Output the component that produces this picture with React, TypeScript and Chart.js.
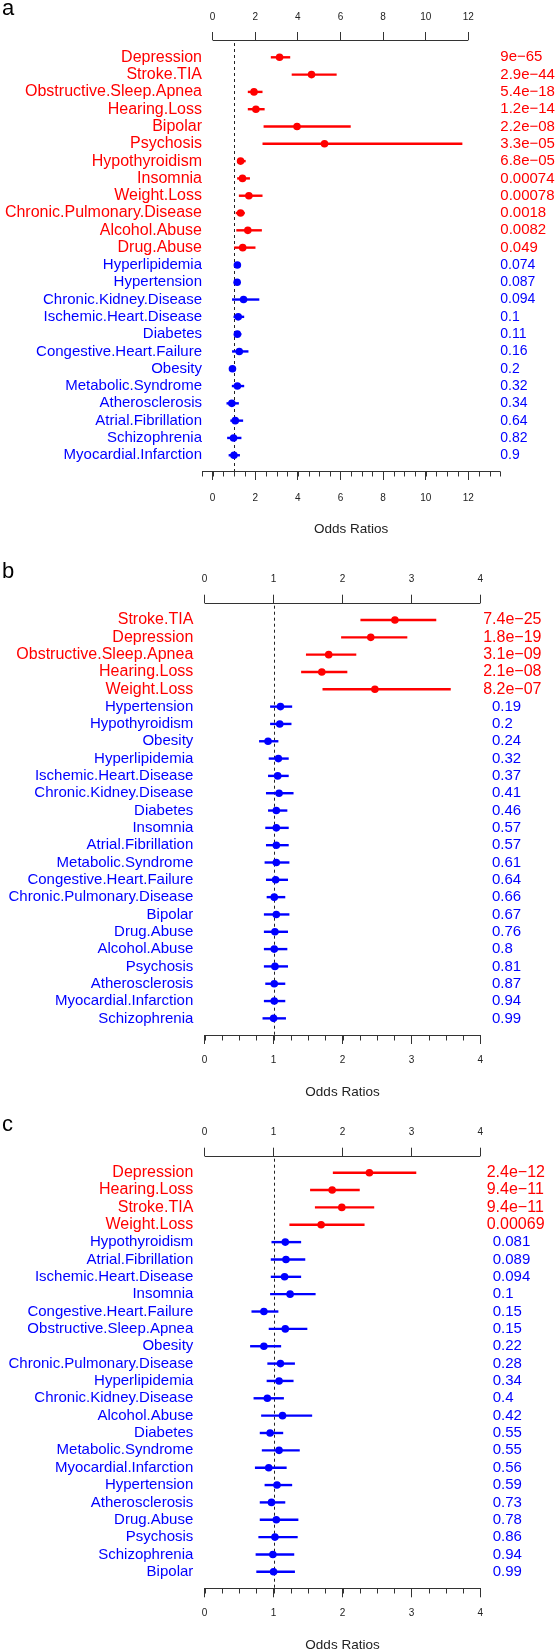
import React, { useEffect, useRef } from 'react';
import { Chart, registerables } from 'chart.js';
Chart.register(...registerables);

const RED = '#FF0000';
const BLUE = '#0000FF';
const AXIS = '#333333';
const FONT = "'Liberation Sans', Arial, Helvetica, sans-serif";

// ---------- Panel a ----------
const aLabels = ['Depression', 'Stroke.TIA', 'Obstructive.Sleep.Apnea', 'Hearing.Loss', 'Bipolar', 'Psychosis', 'Hypothyroidism', 'Insomnia', 'Weight.Loss', 'Chronic.Pulmonary.Disease', 'Alcohol.Abuse', 'Drug.Abuse', 'Hyperlipidemia', 'Hypertension', 'Chronic.Kidney.Disease', 'Ischemic.Heart.Disease', 'Diabetes', 'Congestive.Heart.Failure', 'Obesity', 'Metabolic.Syndrome', 'Atherosclerosis', 'Atrial.Fibrillation', 'Schizophrenia', 'Myocardial.Infarction'];
const aOR = [3.14, 4.64, 1.94, 2.03, 3.96, 5.25, 1.31, 1.40, 1.70, 1.31, 1.65, 1.41, 1.16, 1.15, 1.45, 1.20, 1.16, 1.25, 0.93, 1.16, 0.90, 1.06, 0.98, 1.00];
const aLo = [2.73, 3.71, 1.65, 1.65, 2.39, 2.34, 1.15, 1.15, 1.23, 1.08, 1.11, 1.01, 1.05, 1.05, 0.91, 0.98, 1.01, 0.91, 0.81, 0.90, 0.65, 0.83, 0.68, 0.75];
const aHi = [3.64, 5.82, 2.34, 2.44, 6.48, 11.72, 1.55, 1.75, 2.34, 1.51, 2.31, 2.01, 1.30, 1.28, 2.19, 1.48, 1.35, 1.68, 1.05, 1.48, 1.23, 1.43, 1.35, 1.28];
const aP = ['9e−65', '2.9e−44', '5.4e−18', '1.2e−14', '2.2e−08', '3.3e−05', '6.8e−05', '0.00074', '0.00078', '0.0018', '0.0082', '0.049', '0.074', '0.087', '0.094', '0.1', '0.11', '0.16', '0.2', '0.32', '0.34', '0.64', '0.82', '0.9'];
const aSig = 12;
const aTicks = [0, 2, 4, 6, 8, 10, 12];

// ---------- Panel b ----------
const bLabels = ['Stroke.TIA', 'Depression', 'Obstructive.Sleep.Apnea', 'Hearing.Loss', 'Weight.Loss', 'Hypertension', 'Hypothyroidism', 'Obesity', 'Hyperlipidemia', 'Ischemic.Heart.Disease', 'Chronic.Kidney.Disease', 'Diabetes', 'Insomnia', 'Atrial.Fibrillation', 'Metabolic.Syndrome', 'Congestive.Heart.Failure', 'Chronic.Pulmonary.Disease', 'Bipolar', 'Drug.Abuse', 'Alcohol.Abuse', 'Psychosis', 'Atherosclerosis', 'Myocardial.Infarction', 'Schizophrenia'];
const bOR = [2.76, 2.41, 1.80, 1.70, 2.47, 1.10, 1.09, 0.92, 1.07, 1.06, 1.08, 1.04, 1.04, 1.04, 1.04, 1.03, 1.01, 1.04, 1.02, 1.01, 1.02, 1.01, 1.01, 1.00];
const bLo = [2.26, 1.98, 1.47, 1.40, 1.71, 0.95, 0.95, 0.79, 0.93, 0.92, 0.89, 0.92, 0.88, 0.89, 0.87, 0.89, 0.90, 0.86, 0.86, 0.86, 0.86, 0.88, 0.86, 0.84];
const bHi = [3.36, 2.94, 2.20, 2.07, 3.57, 1.27, 1.26, 1.07, 1.22, 1.22, 1.29, 1.20, 1.22, 1.22, 1.23, 1.21, 1.17, 1.23, 1.21, 1.20, 1.21, 1.17, 1.17, 1.18];
const bP = ['7.4e−25', '1.8e−19', '3.1e−09', '2.1e−08', '8.2e−07', '0.19', '0.2', '0.24', '0.32', '0.37', '0.41', '0.46', '0.57', '0.57', '0.61', '0.64', '0.66', '0.67', '0.76', '0.8', '0.81', '0.87', '0.94', '0.99'];
const bSig = 5;
const bTicks = [0, 1, 2, 3, 4];

// ---------- Panel c ----------
const cLabels = ['Depression', 'Hearing.Loss', 'Stroke.TIA', 'Weight.Loss', 'Hypothyroidism', 'Atrial.Fibrillation', 'Ischemic.Heart.Disease', 'Insomnia', 'Congestive.Heart.Failure', 'Obstructive.Sleep.Apnea', 'Obesity', 'Chronic.Pulmonary.Disease', 'Hyperlipidemia', 'Chronic.Kidney.Disease', 'Alcohol.Abuse', 'Diabetes', 'Metabolic.Syndrome', 'Myocardial.Infarction', 'Hypertension', 'Atherosclerosis', 'Drug.Abuse', 'Psychosis', 'Schizophrenia', 'Bipolar'];
const cOR = [2.39, 1.85, 1.99, 1.69, 1.17, 1.18, 1.16, 1.24, 0.86, 1.17, 0.86, 1.10, 1.08, 0.91, 1.13, 0.95, 1.08, 0.93, 1.05, 0.97, 1.04, 1.02, 0.99, 1.00];
const cLo = [1.86, 1.53, 1.60, 1.23, 0.97, 0.96, 0.96, 0.95, 0.68, 0.93, 0.66, 0.91, 0.90, 0.71, 0.82, 0.80, 0.83, 0.73, 0.87, 0.80, 0.80, 0.78, 0.74, 0.75];
const cHi = [3.07, 2.25, 2.46, 2.32, 1.40, 1.46, 1.40, 1.61, 1.07, 1.49, 1.11, 1.31, 1.29, 1.15, 1.56, 1.14, 1.38, 1.19, 1.27, 1.17, 1.36, 1.35, 1.30, 1.31];
const cP = ['2.4e−12', '9.4e−11', '9.4e−11', '0.00069', '0.081', '0.089', '0.094', '0.1', '0.15', '0.15', '0.22', '0.28', '0.34', '0.4', '0.42', '0.55', '0.55', '0.56', '0.59', '0.73', '0.78', '0.86', '0.94', '0.99'];
const cSig = 4;
const cTicks = [0, 1, 2, 3, 4];

const xLabel = 'Odds Ratios';

type Panel = {
  letter: string;
  labels: string[];
  or: number[];
  lo: number[];
  hi: number[];
  p: string[];
  sig: number;
  ticks: number[];
  xMin: number;
  xMax: number;
  minorStep: number;
  top: number;
  h: number;
  axisTop: number;
  axisBottom: number;
  left: number;
  right: number;
  yMin: number;
  yMax: number;
  labelPad: number;
  pRedPad: number;
  pBluePad: number;
  pRedSize: number;
  pBlueSize: number;
  bottomPad: number;
  titleOffset: number;
};

const panels: Panel[] = [
  {
    letter: 'a', labels: aLabels, or: aOR, lo: aLo, hi: aHi, p: aP, sig: aSig, ticks: aTicks,
    xMin: -0.5, xMax: 13.5, minorStep: 0.5,
    top: 0, h: 550, axisTop: 40, axisBottom: 471, left: 202.0, right: 500.3,
    yMin: -1, yMax: 23.91, labelPad: 0, pRedPad: 0, pBluePad: 0, pRedSize: 15, pBlueSize: 14,
    bottomPad: 12, titleOffset: 58,
  },
  {
    letter: 'b', labels: bLabels, or: bOR, lo: bLo, hi: bHi, p: bP, sig: bSig, ticks: bTicks,
    xMin: 0, xMax: 4, minorStep: 0.25,
    top: 550, h: 555, axisTop: 52.7, axisBottom: 485, left: 204.6, right: 480.4,
    yMin: -1, yMax: 23.96, labelPad: 11.3, pRedPad: 2.8, pBluePad: 11.6, pRedSize: 16, pBlueSize: 15,
    bottomPad: 10, titleOffset: 57.5,
  },
  {
    letter: 'c', labels: cLabels, or: cOR, lo: cLo, hi: cHi, p: cP, sig: cSig, ticks: cTicks,
    xMin: 0, xMax: 4, minorStep: 0.25,
    top: 1105, h: 547, axisTop: 50.7, axisBottom: 483.3, left: 204.6, right: 480.4,
    yMin: -0.98, yMax: 23.95, labelPad: 11.3, pRedPad: 6.3, pBluePad: 12.3, pRedSize: 16, pBlueSize: 15,
    bottomPad: 10, titleOffset: 57.4,
  },
];

function makePlugin(pn: Panel) {
  return {
    id: 'forest' + pn.letter,
    afterLayout(chart: any) {
      // both p-value axes start at the plot's right edge; let the inner one draw its labels across the margin
      const s = chart.scales.y2;
      if (s) s.right = chart.width;
    },
    beforeDatasetsDraw(chart: any) {
      const { ctx, chartArea } = chart;
      const x = chart.scales.x;
      const y = chart.scales.y;
      ctx.save();
      const xr = Math.round(x.getPixelForValue(1)) + 0.5;
      ctx.strokeStyle = '#222';
      ctx.lineWidth = 1;
      ctx.setLineDash([3, 3]);
      ctx.beginPath();
      ctx.moveTo(xr, chartArea.top + 3);
      ctx.lineTo(xr, chartArea.bottom);
      ctx.stroke();
      ctx.setLineDash([]);
      ctx.lineWidth = 2.4;
      ctx.lineCap = 'butt';
      pn.lo.forEach((lo, i) => {
        const yy = y.getPixelForValue(i);
        ctx.strokeStyle = i < pn.sig ? RED : BLUE;
        ctx.beginPath();
        ctx.moveTo(x.getPixelForValue(lo), yy);
        ctx.lineTo(x.getPixelForValue(pn.hi[i]), yy);
        ctx.stroke();
      });
      ctx.restore();
    },
    afterDraw(chart: any) {
      const { ctx, chartArea } = chart;
      const x = chart.scales.x;
      ctx.save();
      ctx.strokeStyle = AXIS;
      ctx.lineWidth = 1;
      const yt = Math.round(chartArea.top) + 0.5;
      ctx.beginPath();
      ctx.moveTo(x.getPixelForValue(pn.ticks[0]), yt);
      ctx.lineTo(x.getPixelForValue(pn.ticks[pn.ticks.length - 1]), yt);
      ctx.stroke();
      const yb = Math.round(chartArea.bottom) + 0.5;
      ctx.beginPath();
      ctx.moveTo(x.getPixelForValue(pn.xMin), yb);
      ctx.lineTo(x.getPixelForValue(pn.xMax), yb);
      const n = Math.round((pn.xMax - pn.xMin) / pn.minorStep);
      for (let k = 0; k <= n; k++) {
        const v = pn.xMin + k * pn.minorStep;
        const px = Math.round(x.getPixelForValue(v)) + 0.5;
        ctx.moveTo(px, yb);
        ctx.lineTo(px, yb + 5);
      }
      ctx.stroke();
      ctx.fillStyle = '#000';
      ctx.font = `22px ${FONT}`;
      ctx.textAlign = 'left';
      ctx.textBaseline = 'alphabetic';
      ctx.fillText(pn.letter, 2, pn.axisTop - 25);
      ctx.restore();
    },
  };
}

function ForestPanel({ pn }: { pn: Panel }) {
  const ref = useRef<HTMLCanvasElement | null>(null);
  useEffect(() => {
    if (!ref.current) return;
    const W = 555;
    const titleLH = 0.8;
    const titleSize = 13.5;
    const bottomH = pn.titleOffset + (titleSize * titleLH) / 2;
    const padBottom = Math.max(0, pn.h - pn.axisBottom - bottomH);
    const tickFont = { family: FONT, size: 10 };
    const setTicks = (vals: number[]) => (s: any) => {
      s.ticks = vals.map((v) => ({ value: v }));
    };
    const rows = pn.labels.map((_, i) => i);
    const rowAxis = (extra: any) => ({
      type: 'linear',
      reverse: true,
      min: pn.yMin,
      max: pn.yMax,
      afterBuildTicks: setTicks(rows),
      grid: { display: false, drawTicks: false },
      border: { display: false },
      ...extra,
    });
    const chart = new Chart(ref.current, {
      type: 'scatter',
      data: {
        datasets: [
          {
            data: pn.or.map((v, i) => ({ x: v, y: i })),
            backgroundColor: pn.or.map((_, i) => (i < pn.sig ? RED : BLUE)),
            borderWidth: 0,
            pointRadius: 3.8,
            pointHoverRadius: 3.8,
          },
        ],
      },
      options: {
        animation: false,
        responsive: false,
        devicePixelRatio: 1,
        layout: { padding: { left: 0, right: 0, top: 0, bottom: padBottom } },
        plugins: { legend: { display: false }, tooltip: { enabled: false } },
        scales: {
          x: {
            type: 'linear',
            position: 'bottom',
            min: pn.xMin,
            max: pn.xMax,
            afterBuildTicks: setTicks(pn.ticks),
            afterFit: (s: any) => { s.height = bottomH; },
            grid: { drawOnChartArea: false, drawTicks: true, tickLength: 9, color: AXIS, tickColor: AXIS, tickWidth: 1 },
            border: { display: false },
            ticks: { font: tickFont, color: '#222', padding: pn.bottomPad, autoSkip: false, maxRotation: 0, callback: (v: any) => String(v) },
            title: { display: true, text: xLabel, font: { family: FONT, size: titleSize, lineHeight: titleLH }, color: '#222', padding: 0 },
          },
          x2: {
            type: 'linear',
            position: 'top',
            min: pn.xMin,
            max: pn.xMax,
            afterBuildTicks: setTicks(pn.ticks),
            afterFit: (s: any) => { s.height = pn.axisTop; },
            grid: { drawOnChartArea: false, drawTicks: true, tickLength: 8, color: AXIS, tickColor: AXIS, tickWidth: 1 },
            border: { display: false },
            ticks: { font: tickFont, color: '#222', padding: 9, autoSkip: false, maxRotation: 0, callback: (v: any) => String(v) },
          },
          y: rowAxis({
            position: 'left',
            afterFit: (s: any) => { s.width = pn.left; },
            ticks: {
              font: (c: any) => ({ family: FONT, size: c.index < pn.sig ? 16 : 15 }),
              color: (c: any) => (c.index < pn.sig ? RED : BLUE),
              padding: pn.labelPad,
              autoSkip: false,
              callback: (v: any) => pn.labels[Math.round(v)],
            },
          }),
          // p-values of non-significant rows (blue)
          y2: rowAxis({
            position: 'right',
            weight: 0,
            afterFit: (s: any) => { s.width = 0; },
            ticks: {
              font: { family: FONT, size: pn.pBlueSize },
              color: BLUE,
              padding: pn.pBluePad,
              autoSkip: false,
              callback: (v: any) => (Math.round(v) >= pn.sig ? pn.p[Math.round(v)] : ''),
            },
          }),
          // p-values of significant rows (red)
          y3: rowAxis({
            position: 'right',
            weight: 1,
            afterFit: (s: any) => { s.width = W - pn.right; },
            ticks: {
              font: { family: FONT, size: pn.pRedSize },
              color: RED,
              padding: pn.pRedPad,
              autoSkip: false,
              callback: (v: any) => (Math.round(v) < pn.sig ? pn.p[Math.round(v)] : ''),
            },
          }),
        },
      },
      plugins: [makePlugin(pn)],
    } as any);
    return () => chart.destroy();
  }, [pn]);
  return (
    <canvas
      ref={ref}
      width={555}
      height={pn.h}
      style={{ position: 'absolute', left: 0, top: pn.top, width: 555, height: pn.h }}
    />
  );
}

export default function App() {
  return (
    <div style={{ position: 'absolute', left: 0, top: 0, width: 555, height: 1652, background: '#fff' }}>
      {panels.map((pn) => (
        <ForestPanel key={pn.letter} pn={pn} />
      ))}
    </div>
  );
}
